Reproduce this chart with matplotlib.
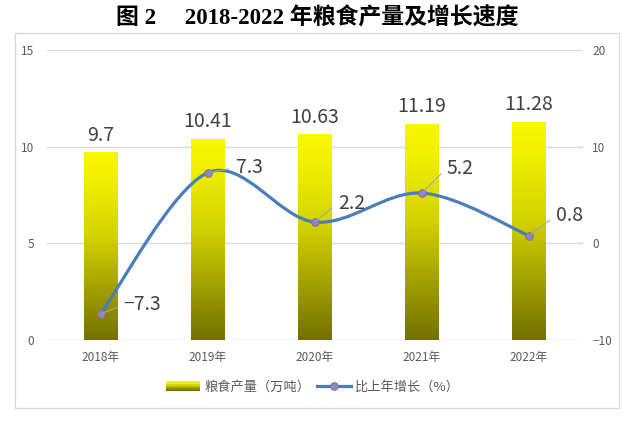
import matplotlib
matplotlib.use("Agg")
import matplotlib.pyplot as plt
import matplotlib.patches as mpatches
from matplotlib.path import Path
from matplotlib.legend_handler import HandlerBase
from matplotlib.colors import LinearSegmentedColormap
import numpy as np

plt.rcParams["font.family"] = ["Noto Sans CJK SC", "DejaVu Sans"]

years = ["2018年", "2019年", "2020年", "2021年", "2022年"]
output = [9.7, 10.41, 10.63, 11.19, 11.28]          # 粮食产量（万吨）
growth = [-7.3, 7.3, 2.2, 5.2, 0.8]                  # 比上年增长（%）
left_ticks = [0, 5, 10, 15]
right_ticks = [-10, 0, 10, 20]

# label offsets for growth labels (pixels)
growth_offsets = [(23, 9), (28, 5), (23, 19), (25, 25), (27, 20)]

LINE_C = "#4A7EBB"
TXT_C = "#404040"
TICK_C = "#595959"
GRID_C = "#D9D9D9"
bar_cmap = LinearSegmentedColormap.from_list(
    "grain", [(0.0, "#747000"), (0.55, "#D2D200"), (0.85, "#F0F000"), (1.0, "#F8F800")])

W, H = 635, 421
fig = plt.figure(figsize=(W / 100, H / 100), dpi=100)

# outer chart border
fig.patches.append(mpatches.Rectangle((15 / W, 1 - 408 / H), 604 / W, 375 / H,
                                      transform=fig.transFigure, fill=False,
                                      edgecolor=GRID_C, linewidth=1.0))

fig.text(0.5, 1 - 18 / H, "图 2\u3000 2018-2022 年粮食产量及增长速度",
         ha="center", va="center", fontsize=16.5, fontweight="bold",
         family=["Liberation Serif", "Noto Sans CJK SC"], color="#000000")

ax = fig.add_axes([47 / W, 1 - 340 / H, 535.5 / W, 290 / H])
x = np.arange(len(years))
bw = 0.31

ax.set_xlim(-0.5, len(years) - 0.5)
ax.set_ylim(0, 15)
grad = np.linspace(1, 0, 256).reshape(-1, 1)
for xi, v in zip(x, output):
    rect = mpatches.Rectangle((xi - bw / 2, 0), bw, v, facecolor="none", edgecolor="none")
    ax.add_patch(rect)
    im = ax.imshow(grad, cmap=bar_cmap, extent=[xi - bw / 2, xi + bw / 2, 0, v],
                   aspect="auto", zorder=2, vmin=0, vmax=1)
    im.set_clip_path(rect)
    ax.annotate(f"{v:g}", (xi, v), xytext=(0, 5), textcoords="offset points",
                ha="center", va="bottom", fontsize=14, color=TXT_C, zorder=5)
ax.set_xlim(-0.5, len(years) - 0.5)
ax.set_ylim(0, 15)

ax.set_yticks(left_ticks)
ax.set_xticks(x)
ax.set_xticklabels(years)
ax.yaxis.grid(True, color=GRID_C, linewidth=1.0)
ax.set_axisbelow(True)
for s in ax.spines.values():
    s.set_visible(False)
ax.tick_params(axis="both", length=0, labelsize=8.5, colors=TICK_C)
ax.tick_params(axis="y", pad=9)
ax.tick_params(axis="x", pad=8)

ax2 = ax.twinx()
ax2.set_ylim(-10, 20)
ax2.set_yticks(right_ticks)
for s in ax2.spines.values():
    s.set_visible(False)
ax2.tick_params(axis="y", length=0, labelsize=8.5, colors=TICK_C, pad=7)

# smooth line (Excel-style bezier through the points, built in display space)
pts = ax2.transData.transform(np.column_stack([x, growth]))
n = len(pts)
verts = [pts[0]]
codes = [Path.MOVETO]
for i in range(n - 1):
    p0 = pts[i - 1] if i > 0 else pts[i]
    p1, p2 = pts[i], pts[i + 1]
    p3 = pts[i + 2] if i + 2 < n else pts[i + 1]
    c1 = p1 + (p2 - p0) / 6
    c2 = p2 - (p3 - p1) / 6
    verts += [c1, c2, p2]
    codes += [Path.CURVE4] * 3
verts = ax2.transData.inverted().transform(np.array(verts))
ax2.add_patch(mpatches.PathPatch(Path(verts, codes), facecolor="none",
                                 edgecolor=LINE_C, linewidth=2.3, zorder=3,
                                 capstyle="round"))
ax2.plot(x, growth, linestyle="none", marker="o", markersize=5.5,
         markerfacecolor="#7E8CD8", markeredgecolor="#B0605E",
         markeredgewidth=0.7, zorder=4)

for xi, g, off in zip(x, growth, growth_offsets):
    ax2.annotate(f"{g:g}".replace("-", "−"), (xi, g), xytext=off, textcoords="offset pixels",
                 ha="left", va="center", fontsize=14, color=TXT_C, zorder=5,
                 arrowprops=dict(arrowstyle="-", color="#A6A6A6", lw=0.8,
                                 shrinkA=3, shrinkB=2, relpos=(0, 0.5)))


class GradientHandler(HandlerBase):
    def create_artists(self, legend, orig_handle, xdescent, ydescent,
                       width, height, fontsize, trans):
        arts = []
        steps = 12
        h = height / steps
        for k in range(steps):
            arts.append(mpatches.Rectangle((-xdescent, -ydescent + k * h), width, h * 1.05,
                                           facecolor=bar_cmap(k / (steps - 1)),
                                           edgecolor="none", transform=trans))
        return arts


bar_handle = mpatches.Patch(facecolor="#E0E000")
line_handle = plt.Line2D([], [], color=LINE_C, linewidth=2.3, marker="o", markersize=5.5,
                         markerfacecolor="#7E8CD8", markeredgecolor="#B0605E",
                         markeredgewidth=0.7)
fig.legend([bar_handle, line_handle], ["粮食产量（万吨）", "比上年增长（%）"],
           handler_map={mpatches.Patch: GradientHandler()},
           loc="center", bbox_to_anchor=(313 / W, 1 - 387 / H), ncol=2, frameon=False,
           fontsize=9.5, handlelength=2.6, handletextpad=0.3, columnspacing=0.5,
           labelcolor=TICK_C)

fig.savefig("out.png", dpi=100, facecolor="white")
